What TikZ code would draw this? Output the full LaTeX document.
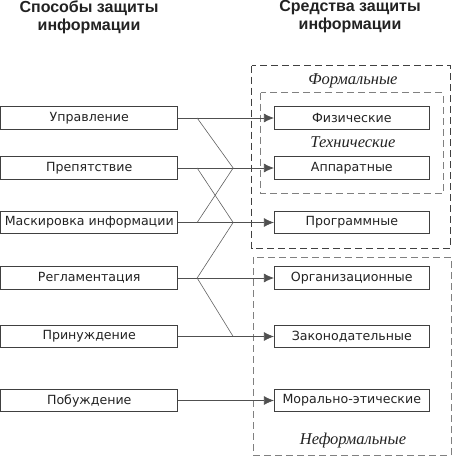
\documentclass[tikz,border=0pt]{standalone}
\usepackage{fontspec}
\setmainfont{DejaVu Sans}
\newfontfamily\headfont{Liberation Sans}
\newfontfamily\italfont{Liberation Serif}
\usetikzlibrary{arrows.meta}
\definecolor{boxline}{HTML}{404040}
\definecolor{conn}{HTML}{505050}
\definecolor{diag}{HTML}{606060}
\definecolor{txt}{HTML}{222222}
\begin{document}
\begin{tikzpicture}[x=1pt,y=-1pt,
  leftbox/.style={draw=boxline, line width=0.8pt, minimum width=177pt, minimum height=22.5pt, inner sep=0pt, font=\fontsize{12.6}{14}\selectfont, text=txt},
  rightbox/.style={draw=boxline, line width=0.8pt, minimum width=155pt, minimum height=22.5pt, inner sep=0pt, font=\fontsize{12.6}{14}\selectfont, text=txt},
  head/.style={font=\headfont\bfseries\fontsize{16}{18}\selectfont, align=center, text=txt},
  grp/.style={font=\italfont\itshape\fontsize{16.5}{18}\selectfont, text=txt},
  outerdash/.style={draw=boxline, line width=0.8pt, dash pattern=on 7pt off 4pt},
  innerdash/.style={draw=diag!80, line width=0.8pt, dash pattern=on 7pt off 4pt},
  arr/.style={draw=conn, line width=0.7pt, -{Latex[length=10pt,width=9pt]}},
  cross/.style={draw=diag, line width=0.6pt}
]
\useasboundingbox (0,0) rectangle (453,459);
% headers
\node[head] (h1) at (89,17) {Способы защиты\\информации};
\node[head] (h2) at (350,17) {Средства защиты\\информации};
% group frames
\draw[outerdash] (251.7,65.7) rectangle (450.7,248.3);
\draw[innerdash] (260.7,92.7) rectangle (443.3,193.3);
\draw[innerdash] (253.5,257.3) rectangle (451,455.5);
\node[grp] (gf) at (353,80.5) {Формальные};
\node[grp] (gt) at (353,142.5) {Технические};
\node[grp] (gn) at (353,441) {Неформальные};
% left boxes
\node[leftbox] (u) at (89.25,118) {Управление};
\node[leftbox] (p) at (89.25,168) {Препятствие};
\node[leftbox] (m) at (89.25,222.5) {Маскировка информации};
\node[leftbox] (r) at (89.25,278) {Регламентация};
\node[leftbox] (pr) at (89.25,336.5) {Принуждение};
\node[leftbox] (pb) at (89.25,400.5) {Побуждение};
% right boxes
\node[rightbox] (f) at (351.8,118) {Физические};
\node[rightbox] (a) at (351.8,168) {Аппаратные};
\node[rightbox] (pg) at (351.8,222.5) {Программные};
\node[rightbox] (o) at (351.8,278) {Организационные};
\node[rightbox] (z) at (351.8,336.5) {Законодательные};
\node[rightbox] (me) at (351.8,400.5) {Морально-этические};
% horizontal connectors
\draw[arr] (u.east) -- (f.west);
\draw[arr] (p.east) -- (a.west);
\draw[arr] (m.east) -- (pg.west);
\draw[arr] (r.east) -- (o.west);
\draw[arr] (pr.east) -- (z.west);
\draw[arr] (pb.east) -- (me.west);
% crossing connectors
\draw[cross] ([xshift=19pt]u.east) -- ([xshift=55pt]p.east);
\draw[cross] ([xshift=19pt]p.east) -- ([xshift=55pt]m.east);
\draw[cross] ([xshift=19pt]m.east) -- ([xshift=55pt]p.east);
\draw[cross] ([xshift=55pt]m.east) -- ([xshift=19pt]r.east);
\draw[cross] ([xshift=19pt]r.east) -- ([xshift=55pt]pr.east);
\end{tikzpicture}
\end{document}
